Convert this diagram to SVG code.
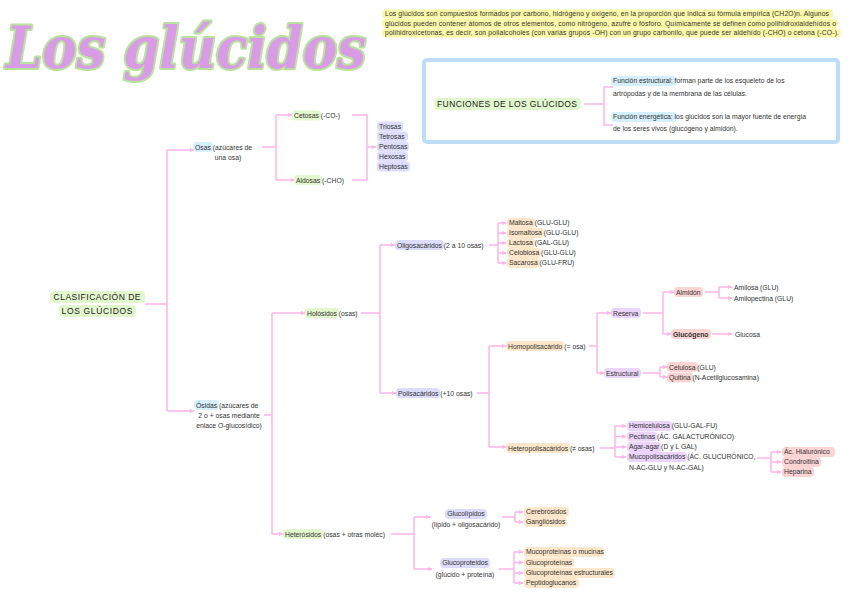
<svg xmlns="http://www.w3.org/2000/svg" width="848" height="599" viewBox="0 0 848 599">
<style>
text{font-family:"Liberation Sans",Arial,sans-serif;font-size:6.8px;fill:#333}
.big{font-size:8.5px;fill:#222}
.b{font-weight:bold}
.ln{fill:none;stroke:#ffb4ea;stroke-width:1.5}
.ar{marker-end:url(#ah)}
rect.h{rx:4px;ry:4px}
.hb{fill:#d5effc}.hg{fill:#e3f7cf}.hl{fill:#dddcfa}.hp{fill:#fde6ca}.hv{fill:#ecd5fb}.hr{fill:#fcd4d4}.hy{fill:#fbf8a6}
.title{font-family:"DejaVu Serif Condensed","DejaVu Serif",serif;font-stretch:condensed;font-style:italic;font-weight:bold;font-size:58px;fill:#d99be6;stroke:#b8e39c;stroke-width:4;paint-order:stroke;stroke-linejoin:round}
</style>
<defs>
<marker id="ah" viewBox="0 0 6 6" refX="5" refY="3" markerWidth="5" markerHeight="5" markerUnits="userSpaceOnUse" orient="auto"><path d="M0,0.5 L6,3 L0,5.5z" fill="#ffb4ea"/></marker>
</defs>
<rect width="848" height="599" fill="#fff"/>

<g id="title"><text class="title" x="6" y="68" textLength="360" lengthAdjust="spacingAndGlyphs">Los glúcidos</text></g>

<g id="intro">
<rect class="h hy" x="382" y="9.5" width="451" height="9"/>
<rect class="h hy" x="382" y="19" width="456" height="9"/>
<rect class="h hy" x="382" y="28.5" width="459" height="9"/>
<text x="385" y="16.4" textLength="444" lengthAdjust="spacing">Los glúcidos son compuestos formados por carbono, hidrógeno y oxígeno, en la proporción que indica su fórmula empírica (CH2O)n. Algunos</text>
<text x="385" y="25.9" textLength="451" lengthAdjust="spacing">glúcidos pueden contener átomos de otros elementos, como nitrógeno, azufre o fósforo. Químicamente se definen como polihidroxialdehídos o</text>
<text x="385" y="35.4" textLength="454" lengthAdjust="spacing">polihidroxicetonas, es decir, son polialcoholes (con varias grupos -OH) con un grupo carbonilo, que puede ser aldehído (-CHO) o cetona (-CO-).</text>
</g>

<g id="funciones-box"><rect x="424" y="60" width="414" height="82" rx="3" fill="#fff" stroke="#bddcfa" stroke-width="4"/></g>

<g id="connectors">
<path class="ln" d="M584,104 H604 M613,87 H604 V125 H613"/>
<path class="ln" d="M145,304 H167 M167,150 V411"/>
<path class="ln ar" d="M167,150 H194"/>
<path class="ln ar" d="M167,411 H194"/>
<path class="ln" d="M262,147 H276 M276,115 V180"/>
<path class="ln ar" d="M276,115 H292"/>
<path class="ln ar" d="M276,180 H295"/>
<path class="ln" d="M352,115 H367 V180 H352"/>
<path class="ln ar" d="M367,147 H376"/>
<path class="ln" d="M264,415 H272 M272,313 V534"/>
<path class="ln ar" d="M272,313 H305"/>
<path class="ln ar" d="M272,534 H283"/>
<path class="ln" d="M361,313 H380 M380,245 V393"/>
<path class="ln ar" d="M380,245 H395"/>
<path class="ln ar" d="M380,393 H396"/>
<path class="ln" d="M489,245 H498 M498,223 V263"/>
<path class="ln ar" d="M498,223 H506"/>
<path class="ln ar" d="M498,233 H506"/>
<path class="ln ar" d="M498,243 H506"/>
<path class="ln ar" d="M498,253 H506"/>
<path class="ln ar" d="M498,263 H506"/>
<path class="ln" d="M477,393 H489 M489,346 V447"/>
<path class="ln ar" d="M489,346 H506"/>
<path class="ln ar" d="M489,447 H506"/>
<path class="ln" d="M589,346 H597 M597,313 V373"/>
<path class="ln ar" d="M597,313 H611"/>
<path class="ln ar" d="M597,373 H604"/>
<path class="ln" d="M643,313 H663 M663,292 V334"/>
<path class="ln ar" d="M663,292 H674"/>
<path class="ln ar" d="M663,334 H671"/>
<path class="ln" d="M705,292 H719 M719,287 V298"/>
<path class="ln ar" d="M719,287 H732"/>
<path class="ln ar" d="M719,298 H732"/>
<path class="ln ar" d="M712,334 H732"/>
<path class="ln" d="M643,373 H660 M660,367 V377"/>
<path class="ln ar" d="M660,367 H667"/>
<path class="ln ar" d="M660,377 H667"/>
<path class="ln" d="M600,448 H615 M615,426 V457"/>
<path class="ln ar" d="M615,426 H626"/>
<path class="ln ar" d="M615,436.5 H626"/>
<path class="ln ar" d="M615,447 H626"/>
<path class="ln ar" d="M615,457 H626"/>
<path class="ln" d="M757,458 H771 M771,452 V472"/>
<path class="ln ar" d="M771,452 H781"/>
<path class="ln ar" d="M771,462 H781"/>
<path class="ln ar" d="M771,472 H781"/>
<path class="ln" d="M391,534 H414 M414,517 V569"/>
<path class="ln ar" d="M414,517 H430"/>
<path class="ln ar" d="M414,569 H432"/>
<path class="ln" d="M502,517 H515 M515,512 V522"/>
<path class="ln ar" d="M515,512 H523"/>
<path class="ln ar" d="M515,522 H523"/>
<path class="ln" d="M499,569 H514 M514,552 V583"/>
<path class="ln ar" d="M514,552 H523"/>
<path class="ln ar" d="M514,562.5 H523"/>
<path class="ln ar" d="M514,573 H523"/>
<path class="ln ar" d="M514,583 H523"/>
</g>

<g id="funciones"><rect class="h hg" x="434" y="98" width="147" height="12"/><text class="big" x="437" y="107.3" textLength="140">FUNCIONES DE LOS GLÚCIDOS</text></g>
<g id="f-estructural"><rect class="h hb" x="611" y="76" width="66" height="10"/><text x="613" y="83.4">Función estructural: forman parte de los esqueleto de los</text><text x="613" y="95.5">artrópodas y de la membrana de las células.</text></g>
<g id="f-energetica"><rect class="h hb" x="611" y="112" width="66" height="10"/><text x="613" y="119.4">Función energética: los glúcidos son la mayor fuente de energía</text><text x="613" y="130.5">de los seres vivos (glucógeno y almidón).</text></g>

<g id="clasificacion"><rect class="h hg" x="50" y="291" width="95" height="12"/><rect class="h hg" x="59" y="305" width="77" height="12"/><text class="big" x="97" y="300" text-anchor="middle" textLength="87">CLASIFICACIÓN DE</text><text class="big" x="97" y="314" text-anchor="middle" textLength="71">LOS GLÚCIDOS</text></g>

<g id="osas"><rect class="h hb" x="193" y="142" width="20" height="10"/><text x="195" y="149.5">Osas (azúcares de</text><text x="228" y="159.5" text-anchor="middle">una osa)</text></g>
<g id="osidas"><rect class="h hb" x="194" y="400" width="25" height="10"/><text x="196" y="407.5">Ósidas (azúcares de</text><text x="229" y="417.5" text-anchor="middle">2 o + osas mediante</text><text x="229" y="427.5" text-anchor="middle">enlace O-glucosídico)</text></g>

<g id="cetosas"><rect class="h hg" x="292" y="110.5" width="29" height="10"/><text x="294" y="118">Cetosas (-CO-)</text></g>
<g id="aldosas"><rect class="h hg" x="294" y="175" width="28" height="10"/><text x="296" y="182.5">Aldosas (-CHO)</text></g>

<g id="triosas"><rect class="h hl" x="377" y="121.5" width="26" height="10"/><text x="379" y="128.9">Triosas</text></g>
<g id="tetrosas"><rect class="h hl" x="377" y="131.5" width="31" height="10"/><text x="379" y="138.9">Tetrosas</text></g>
<g id="pentosas"><rect class="h hl" x="377" y="141.5" width="32" height="10"/><text x="379" y="148.9">Pentosas</text></g>
<g id="hexosas"><rect class="h hl" x="377" y="151.5" width="31" height="10"/><text x="379" y="158.9">Hexosas</text></g>
<g id="heptosas"><rect class="h hl" x="377" y="161.5" width="33" height="10"/><text x="379" y="168.9">Heptosas</text></g>

<g id="holosidos"><rect class="h hg" x="305" y="308" width="34" height="10"/><text x="307" y="315.5">Holósidos (osas)</text></g>
<g id="heterosidos"><rect class="h hg" x="283" y="529" width="40" height="10"/><text x="285" y="536.5">Heterósidos (osas + otras moléc)</text></g>

<g id="oligosacaridos"><rect class="h hl" x="395" y="240" width="49" height="10"/><text x="397" y="247.5">Oligosacáridos (2 a 10 osas)</text></g>
<g id="polisacaridos"><rect class="h hl" x="396" y="388" width="44" height="10"/><text x="398" y="395.5">Polisacáridos (+10 osas)</text></g>

<g id="maltosa"><rect class="h hp" x="507" y="218" width="28" height="10"/><text x="509" y="225.4">Maltosa (GLU-GLU)</text></g>
<g id="isomaltosa"><rect class="h hp" x="507" y="228" width="37" height="10"/><text x="509" y="235.4">Isomaltosa (GLU-GLU)</text></g>
<g id="lactosa"><rect class="h hp" x="507" y="238" width="28" height="10"/><text x="509" y="245.4">Lactosa (GAL-GLU)</text></g>
<g id="celobiosa"><rect class="h hp" x="507" y="248" width="34" height="10"/><text x="509" y="255.4">Celobiosa (GLU-GLU)</text></g>
<g id="sacarosa"><rect class="h hp" x="507" y="258" width="33" height="10"/><text x="509" y="265.4">Sacarosa (GLU-FRU)</text></g>

<g id="homopolisacarido"><rect class="h hp" x="506" y="341" width="58" height="10"/><text x="508" y="348.5">Homopolisacárido (= osa)</text></g>
<g id="heteropolisacaridos"><rect class="h hp" x="506" y="443" width="64" height="10"/><text x="508" y="450.5">Heteropolisacáridos (≠ osas)</text></g>

<g id="reserva"><rect class="h hv" x="611" y="308" width="30" height="10"/><text x="613" y="315.5">Reserva</text></g>
<g id="estructural"><rect class="h hv" x="604" y="368" width="37" height="10"/><text x="606" y="375.5">Estructural</text></g>
<g id="almidon"><rect class="h hr" x="674" y="287" width="29" height="10"/><text x="676" y="294.5">Almidón</text></g>
<g id="glucogeno"><rect class="h hr" x="671" y="329" width="40" height="10"/><text class="b" x="673" y="336.5">Glucógeno</text></g>
<g id="amilosa"><text x="734" y="289.5">Amilosa (GLU)</text></g>
<g id="amilopectina"><text x="734" y="300.5">Amilopectina (GLU)</text></g>
<g id="glucosa"><text x="735" y="336.5">Glucosa</text></g>
<g id="celulosa"><rect class="h hr" x="667" y="362" width="31" height="10"/><text x="669" y="369.5">Celulosa (GLU)</text></g>
<g id="quitina"><rect class="h hr" x="667" y="372.5" width="26" height="10"/><text x="669" y="380">Quitina (N-Acetilglucosamina)</text></g>

<g id="hemicelulosa"><rect class="h hv" x="627" y="421" width="45" height="10"/><text x="629" y="428.4">Hemicelulosa (GLU-GAL-FU)</text></g>
<g id="pectinas"><rect class="h hv" x="627" y="431.5" width="30" height="10"/><text x="629" y="438.9">Pectinas (ÁC. GALACTURÓNICO)</text></g>
<g id="agar"><rect class="h hv" x="627" y="442" width="34" height="10"/><text x="629" y="449.4">Agar-agar (D y L GAL)</text></g>
<g id="mucopolisacaridos"><rect class="h hv" x="627" y="452" width="60" height="10"/><text x="629" y="459.4">Mucopolisacáridos (ÁC. GLUCURÓNICO,</text><text x="629" y="470">N-AC-GLU y N-AC-GAL)</text></g>

<g id="hialuronico"><rect class="h hr" x="782" y="447" width="53" height="10"/><text x="784" y="454.4">Ác. Hialurónico</text></g>
<g id="condroitina"><rect class="h hr" x="782" y="457" width="39" height="10"/><text x="784" y="464.4">Condroitina</text></g>
<g id="heparina"><rect class="h hr" x="782" y="467" width="32" height="10"/><text x="784" y="474.4">Heparina</text></g>

<g id="glucolipidos"><rect class="h hl" x="445" y="509" width="42" height="10"/><text x="466" y="516.4" text-anchor="middle">Glucolípidos</text><text x="466" y="527" text-anchor="middle">(lípido + oligosacárido)</text></g>
<g id="glucoproteidos"><rect class="h hl" x="440" y="558" width="50" height="10"/><text x="465" y="565.4" text-anchor="middle">Glucoproteidos</text><text x="465" y="576.5" text-anchor="middle">(glúcido + proteína)</text></g>

<g id="cerebrosidos"><rect class="h hp" x="524" y="507" width="45" height="10"/><text x="526" y="514.4">Cerebrósidos</text></g>
<g id="gangliosidos"><rect class="h hp" x="524" y="517" width="43" height="10"/><text x="526" y="524.4">Gangliósidos</text></g>
<g id="mucoproteinas"><rect class="h hp" x="524" y="547" width="80" height="10"/><text x="526" y="554.4">Mucoproteínas o mucinas</text></g>
<g id="glucoproteinas"><rect class="h hp" x="524" y="557.5" width="50" height="10"/><text x="526" y="564.9">Glucoproteínas</text></g>
<g id="glucoproteinas-estr"><rect class="h hp" x="524" y="568" width="91" height="10"/><text x="526" y="575.4">Glucoproteínas estructurales</text></g>
<g id="peptidoglucanos"><rect class="h hp" x="524" y="578" width="55" height="10"/><text x="526" y="585.4">Peptidoglucanos</text></g>
</svg>
